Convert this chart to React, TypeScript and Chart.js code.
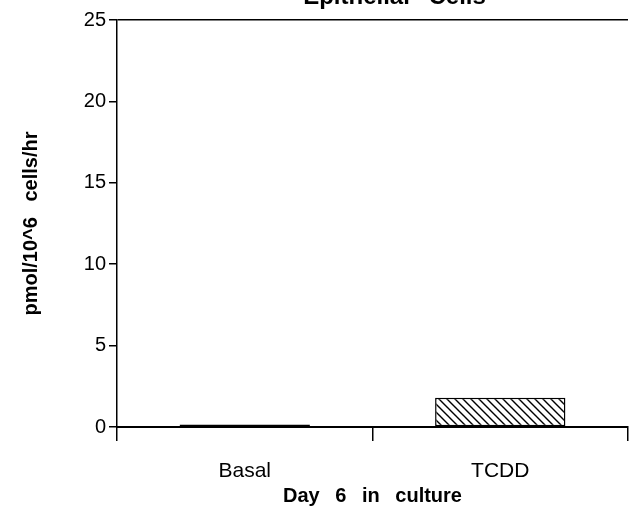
import React, { useEffect, useRef } from "react";
import { Chart, registerables } from "chart.js";

Chart.register(...registerables);

const chartTitle = "Epithelial\u2002 Cells";
const categories = ["Basal", "TCDD"];
const values = [0.15, 1.8];
const yTicks = [0, 5, 10, 15, 20, 25];
const yTitle = "pmol/10^6\u2002 cells/hr";
const xTitle = "Day\u2002 6\u2002 in\u2002 culture";

const FONT = "'Liberation Sans', Arial, Helvetica, sans-serif";

function makeHatch(): CanvasPattern | string {
  const s = 8;
  const c = document.createElement("canvas");
  c.width = s;
  c.height = s;
  const g = c.getContext("2d");
  if (!g) return "#888";
  g.fillStyle = "#fff";
  g.fillRect(0, 0, s, s);
  g.strokeStyle = "#000";
  g.lineWidth = 1.4;
  g.beginPath();
  g.moveTo(-1, -1);
  g.lineTo(s + 1, s + 1);
  g.moveTo(-1, s - 1);
  g.lineTo(1, s + 1);
  g.moveTo(s - 1, -1);
  g.lineTo(s + 1, 1);
  g.stroke();
  const p = g.createPattern(c, "repeat");
  return p || "#888";
}

const topTitlePlugin = {
  id: "topTitle",
  afterDraw(chart: any) {
    const { ctx, chartArea } = chart;
    ctx.save();
    ctx.font = `bold 24px ${FONT}`;
    ctx.fillStyle = "#000";
    ctx.textAlign = "center";
    ctx.textBaseline = "alphabetic";
    ctx.fillText(chartTitle, (chartArea.left + chartArea.right) / 2 + 22, chartArea.top - 16);
    ctx.restore();
  },
};

export default function App() {
  const ref = useRef<HTMLCanvasElement | null>(null);

  useEffect(() => {
    if (!ref.current) return;
    const hatch = makeHatch();
    const chart = new Chart(ref.current, {
      type: "bar",
      data: {
        labels: categories,
        datasets: [
          {
            data: values,
            backgroundColor: [hatch, hatch] as any,
            borderColor: "#000",
            borderWidth: 1.5,
            borderSkipped: false,
            barPercentage: 0.51,
            categoryPercentage: 1,
          },
        ],
      },
      options: {
        responsive: false,
        animation: false,
        devicePixelRatio: 1,
        layout: { padding: { top: 20, right: 2, left: 0, bottom: 0 } },
        plugins: {
          legend: { display: false },
          title: { display: false },
          tooltip: { enabled: false },
        },
        scales: {
          x: {
            offset: true,
            grid: {
              offset: true,
              drawOnChartArea: false,
              color: "#000",
              tickColor: "#000",
              tickLength: 14,
              lineWidth: 1.5,
            },
            border: { color: "#000", width: 2 },
            ticks: {
              color: "#000",
              font: { family: FONT, size: 21 },
              padding: 18,
            },
            title: {
              display: true,
              text: xTitle,
              color: "#000",
              font: { family: FONT, size: 20, weight: "bold", lineHeight: 1 },
              padding: { top: 0, bottom: 0 },
            },
            afterFit(scale: any) {
              scale.height = 79;
            },
          },
          y: {
            min: 0,
            max: 25,
            afterBuildTicks(scale: any) {
              scale.ticks = yTicks.map((v) => ({ value: v }));
            },
            grid: {
              drawOnChartArea: true,
              color: (ctx: any) => (ctx.tick && ctx.tick.value === 25 ? "#000" : "rgba(0,0,0,0)"),
              tickColor: "#000",
              tickLength: 8,
              lineWidth: 1.5,
            },
            border: { color: "#000", width: 1.5 },
            ticks: {
              color: "#000",
              font: { family: FONT, size: 20 },
              padding: 3,
            },
            title: {
              display: true,
              text: yTitle,
              color: "#000",
              font: { family: FONT, size: 20, weight: "bold", lineHeight: 1 },
              padding: { top: 21, bottom: 0 },
            },
            afterFit(scale: any) {
              scale.width = 117;
            },
          },
        },
      },
      plugins: [topTitlePlugin],
    });
    return () => chart.destroy();
  }, []);

  return (
    <div style={{ position: "absolute", left: 0, top: 0, width: 630, height: 506, background: "#fff" }}>
      <canvas ref={ref} width={630} height={506} style={{ display: "block" }} />
    </div>
  );
}
